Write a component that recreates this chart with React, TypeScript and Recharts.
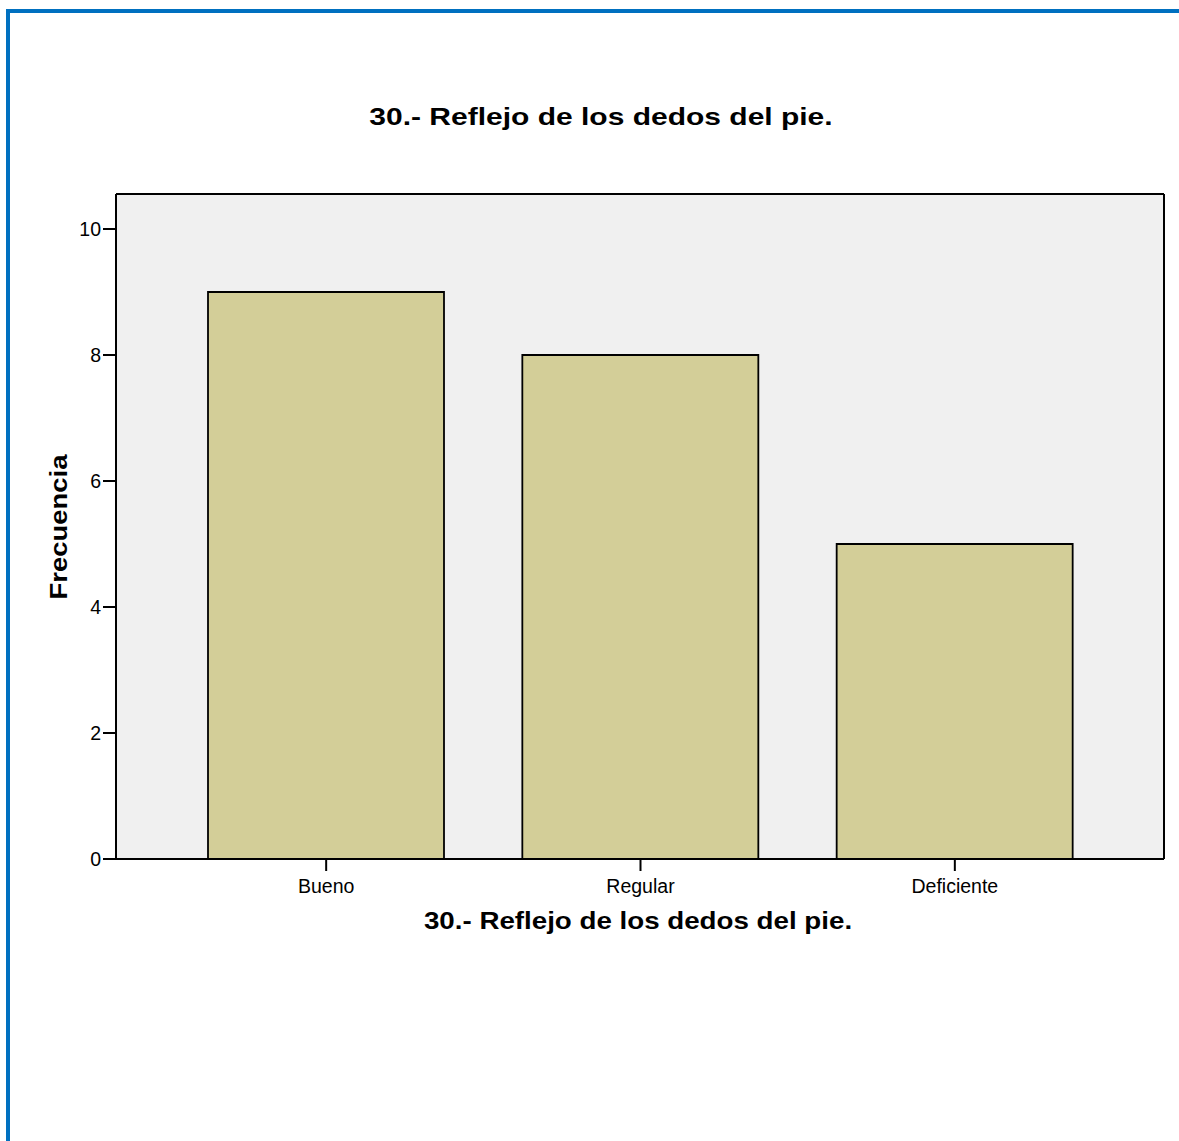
import { BarChart, Bar, XAxis, YAxis, CartesianGrid } from "recharts";

const categories = ["Bueno", "Regular", "Deficiente"];
const frecuencia = [9, 8, 5];
const yTicks = [0, 2, 4, 6, 8, 10];
const yMax = 10.556;

const titulo = "30.- Reflejo de los dedos del pie.";
const ejeX = "30.- Reflejo de los dedos del pie.";
const ejeY = "Frecuencia";

const data = categories.map((name, i) => ({ name, value: frecuencia[i] }));

const FONT = "'Liberation Sans', Arial, sans-serif";

// frame lines on the top and right edge of the plot area
const topEdge = (p: any) => [p.offset.top];
const rightEdge = (p: any) => [p.offset.left + p.offset.width];

export default function App() {
  return (
    <div style={{ position: "absolute", left: 0, top: 0, width: 1179, height: 1141, background: "#fff", overflow: "hidden" }}>
      {/* blue frame, only top and left visible */}
      <div
        style={{
          position: "absolute",
          left: 6,
          top: 9,
          width: 1300,
          height: 1300,
          borderTop: "4px solid #0070C0",
          borderLeft: "4px solid #0070C0",
        }}
      />
      <div style={{ position: "absolute", left: 0, top: 0 }}>
        <BarChart
          width={1179}
          height={1141}
          data={data}
          margin={{ top: 194, right: 15, bottom: 222, left: 0 }}
          barCategoryGap={0}
        >
          <CartesianGrid
            fill="#F0F0F0"
            stroke="#000"
            strokeWidth={2}
            horizontalCoordinatesGenerator={topEdge}
            verticalCoordinatesGenerator={rightEdge}
          />
          <XAxis
            dataKey="name"
            height={60}
            padding={{ left: 53, right: 52 }}
            tickSize={12}
            tickMargin={8}
            axisLine={{ stroke: "#000", strokeWidth: 2 }}
            tickLine={{ stroke: "#000", strokeWidth: 2 }}
            tick={{ fill: "#000", fontSize: 19.5, fontFamily: FONT }}
            label={{
              content: () => (
                <text
                  transform="translate(638,929) scale(1.18,1)"
                  textAnchor="middle"
                  fontFamily={FONT}
                  fontWeight="bold"
                  fontSize={23.5}
                  fill="#000"
                >
                  {ejeX}
                </text>
              ),
            }}
          />
          <YAxis
            width={116}
            domain={[0, yMax]}
            ticks={yTicks}
            interval={0}
            tickSize={13}
            tickMargin={2}
            axisLine={{ stroke: "#000", strokeWidth: 2 }}
            tickLine={{ stroke: "#000", strokeWidth: 2 }}
            tick={{ fill: "#000", fontSize: 19.5, fontFamily: FONT }}
            label={{
              content: () => (
                <text
                  transform="translate(67,527) rotate(-90) scale(1.12,1)"
                  textAnchor="middle"
                  fontFamily={FONT}
                  fontWeight="bold"
                  fontSize={24.5}
                  fill="#000"
                >
                  {ejeY}
                </text>
              ),
            }}
          />
          <Bar
            dataKey="value"
            barSize={236}
            fill="#D3CE98"
            stroke="#000"
            strokeWidth={1.8}
            isAnimationActive={false}
          />
        </BarChart>
      </div>
      <svg
        width={1179}
        height={160}
        style={{ position: "absolute", left: 0, top: 0, pointerEvents: "none" }}
      >
        <text
          transform="translate(601,125) scale(1.25,1)"
          textAnchor="middle"
          fontFamily={FONT}
          fontWeight="bold"
          fontSize={24}
          fill="#000"
        >
          {titulo}
        </text>
      </svg>
    </div>
  );
}
